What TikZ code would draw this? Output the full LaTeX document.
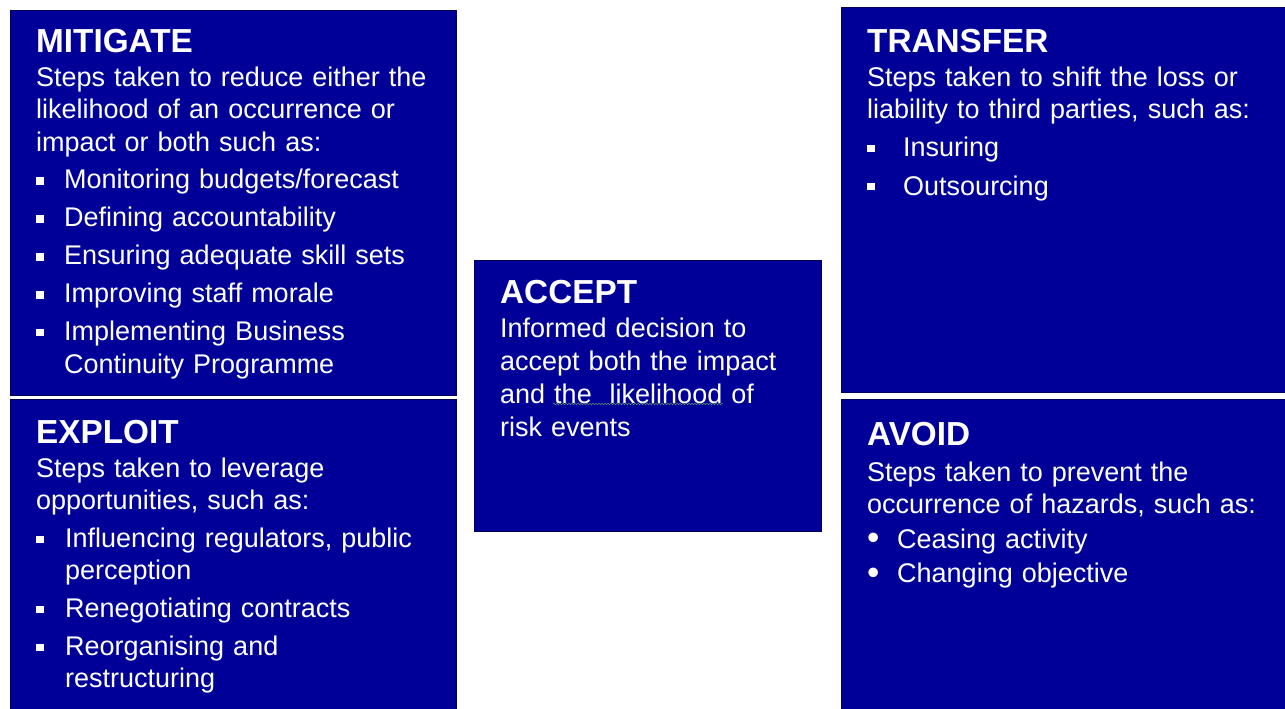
\documentclass[tikz,border=0pt]{standalone}
\usepackage{fontspec}
\setmainfont{Liberation Sans}
\usepackage{tikz}
\usetikzlibrary{positioning,decorations.pathmorphing}

\definecolor{riskblue}{RGB}{0,0,153}
\newlength{\itmgap}
\setlength{\itmgap}{6pt}
\newcommand{\sqbul}{\raisebox{4.5pt}{\rule{7.5pt}{7.5pt}}}
\newcommand{\rdbul}{\raisebox{-1.2pt}{\scalebox{1.3}{\textbullet}}}
\newcommand{\itm}[3][\sqbul]{\par\vspace{\itmgap}\noindent\makebox[#2][l]{#1}#3}
\newcommand{\cnt}[2]{\par\noindent\hspace*{#1}#2}

\begin{document}
\begin{tikzpicture}[x=1pt,y=-1pt,
    panel/.style={draw=riskblue!55!black,line width=0.8pt,fill=riskblue,
                  inner sep=0pt,anchor=north west},
    heading/.style={anchor=base west,inner sep=0pt,text=white,
                    font=\fontsize{33.3}{36}\selectfont\bfseries},
    body/.style={anchor=base west,inner sep=0pt,text=white,align=left,
                 text width=410pt,font=\fontsize{27}{32}\selectfont}]
%  \tikzstyle{every node}=[text=white]

 \useasboundingbox (0,0) rectangle (1285,709);

 \node [panel,minimum width=446,minimum height=385] (mit) at (10,10) {};
 \node [panel,minimum width=446,minimum height=314,anchor=north] (exp) [below=3pt of mit] {};
 \node [panel,minimum width=347,minimum height=271] (acc) at (474,260) {};
 \node [panel,minimum width=449,minimum height=385] (tra) at (841,7) {};
 \node [panel,minimum width=449,minimum height=314,anchor=north] (avo) [below=6pt of tra] {};

 % headings
 \node [heading] (mitH) at ([shift={(26,43)}]mit.north west) {MITIGATE};
 \node [heading] (expH) at ([shift={(26,45)}]exp.north west) {EXPLOIT};
 \node [heading] (accH) at ([shift={(26,43)}]acc.north west) {ACCEPT};
 \node [heading] (traH) at ([shift={(26,46)}]tra.north west) {TRANSFER};
 \node [heading] (avoH) at ([shift={(26,47)}]avo.north west) {AVOID};

 % texts
 \node [body] (mitB) at ([yshift=-34pt]mitH.base west) {Steps taken to reduce either the\par
   likelihood of an occurrence or\par
   impact or both such as:
   \itm{28pt}{Monitoring budgets/forecast}
   \itm{28pt}{Defining accountability}
   \itm{28pt}{Ensuring adequate skill sets}
   \itm{28pt}{Improving staff morale}
   \itm{28pt}{Implementing Business}
   \cnt{28pt}{Continuity Programme}};

 \node [body] (expB) at ([yshift=-34pt]expH.base west) {Steps taken to leverage\par
   opportunities, such as:
   \itm{29pt}{Influencing regulators, public}
   \cnt{29pt}{perception}
   \itm{29pt}{Renegotiating contracts}
   \itm{29pt}{Reorganising and}
   \cnt{29pt}{restructuring}};

 \node [body,text width=310pt,font=\fontsize{27}{33}\selectfont] (accB)
   at ([yshift=-34pt]accH.base west) {Informed decision to\par
   accept both the impact\par
   and the~\ likelihood of\par
   risk events};

 \node [body] (traB) at ([yshift=-34pt]traH.base west) {Steps taken to shift the loss or\par
   liability to third parties, such as:
   \itm{36pt}{Insuring}
   \itm{36pt}{Outsourcing}};

 \node [body] (avoB) at ([yshift=-36pt]avoH.base west) {\setlength{\itmgap}{2.5pt}%
   Steps taken to prevent the\par
   occurrence of hazards, such as:
   \itm[\rdbul]{30pt}{Ceasing activity}
   \itm[\rdbul]{30pt}{Changing objective}};

 \draw [draw={rgb,255:red,95;green,140;blue,115},line width=0.6pt,
        decorate,decoration={snake,amplitude=0.7pt,segment length=3pt}]
       (553,404) -- (723,404);

\end{tikzpicture}
\end{document}
